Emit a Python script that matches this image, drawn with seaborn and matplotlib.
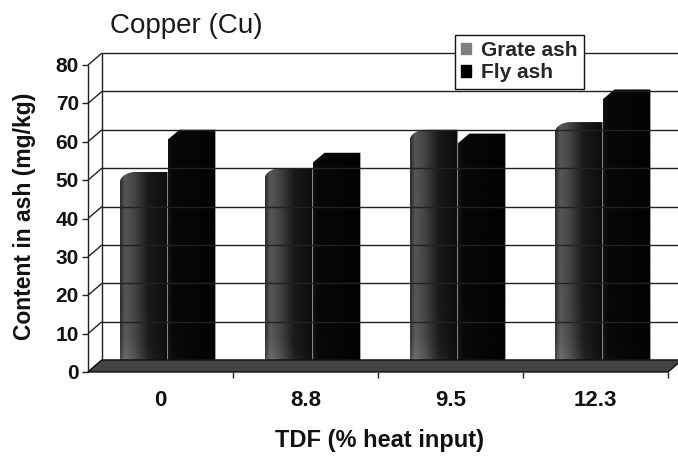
import numpy as np
import pandas as pd
import matplotlib
matplotlib.use("Agg")
import matplotlib.pyplot as plt
from matplotlib.transforms import Affine2D
from matplotlib.patches import Polygon, Patch
import seaborn as sns

# ---- data -------------------------------------------------------------
tdf_labels = ["0", "8.8", "9.5", "12.3"]
grate_ash = [49, 50, 60, 62]
fly_ash = [60, 54, 59, 70.5]
series_names = ["Grate ash", "Fly ash"]
y_ticks = [0, 10, 20, 30, 40, 50, 60, 70, 80]

df = pd.DataFrame({
    "TDF": tdf_labels * 2,
    "ash": [series_names[0]] * len(tdf_labels) + [series_names[1]] * len(tdf_labels),
    "content": grate_ash + fly_ash,
})

sns.set_theme(style="white")
plt.rcParams["font.family"] = ["Liberation Sans", "DejaVu Sans"]

W, H, DPI = 678, 457, 100
fig = plt.figure(figsize=(W / DPI, H / DPI), dpi=DPI)
fig.patch.set_facecolor("white")

# plane in which the columns stand (half way between front edge and back wall)
AX_L, AX_R = 95, 675          # pixel columns of x = -0.5 and x = 3.5
Y0, Y80 = 360, 53             # pixel rows of 0 and 80 on the back wall
DX_FRONT, DY_FRONT = -7, 12   # front plane offset from the column plane
DX_BACK = 7                   # back wall offset from the column plane

ax = fig.add_axes([AX_L / W, 1 - Y0 / H, (AX_R - AX_L) / W, (Y0 - Y80) / H])
ax.set_facecolor("none")

palette = {"Grate ash": "#808080", "Fly ash": "#000000"}
sns.barplot(data=df, x="TDF", y="content", hue="ash", order=tdf_labels,
            hue_order=series_names, palette=palette, width=0.66,
            legend=False, ax=ax, saturation=1)
ax.set_xlim(-0.5, 3.5)
ax.set_ylim(0, 80)
ax.axis("off")

PX_X = (AX_R - AX_L) / 4.0
PX_Y = (Y0 - Y80) / 80.0

def xp(xd):
    return AX_L + (xd + 0.5) * PX_X

def yp(v):
    return Y0 - v * PX_Y

# image-pixel coordinates (origin top-left) -> display
pix = Affine2D().scale(1, -1).translate(0, H)

def line(xs, ys, color="#222222", lw=1.0, z=1):
    fig.add_artist(plt.Line2D(xs, ys, transform=pix, color=color, lw=lw,
                              zorder=z, solid_capstyle="butt"))

# back wall gridlines and left edge
xb_left = xp(-0.5) + DX_BACK
for v in y_ticks:
    line([xb_left, W + 5], [yp(v), yp(v)], lw=1.0)
line([xb_left, xb_left], [yp(0), yp(80)], lw=1.0)

# side wall: front axis, connectors to the back wall, ticks
xf_left = xp(-0.5) + DX_FRONT
line([xf_left, xf_left], [yp(0) + DY_FRONT, yp(80) + DY_FRONT], lw=1.0)
for v in y_ticks:
    yf = yp(v) + DY_FRONT
    line([xf_left, xb_left], [yf, yp(v)], lw=1.0)
    line([xf_left - 6, xf_left], [yf, yf], lw=1.0)
    fig.text((xf_left - 9) / W, 1 - (yf + 7) / H, str(v), ha="right",
             va="baseline", fontsize=15, fontweight="bold", color="#111111")

# floor
xf_right = xp(3.5) + DX_FRONT
floor = Polygon([(xf_left, yp(0) + DY_FRONT), (xb_left, yp(0)),
                 (xf_right + 14, yp(0)), (xf_right, yp(0) + DY_FRONT)],
                closed=True, transform=pix, facecolor="#444444",
                edgecolor="#111111", lw=1.0, zorder=2)
fig.add_artist(floor)
for k in range(4):
    xt = xp(k + 0.5) + DX_FRONT
    line([xt, xt], [yp(0) + DY_FRONT, yp(0) + DY_FRONT + 6], lw=1.0, z=2)

# shaded columns, clipped to each bar's outline with a rounded top shoulder
n_cat = len(tdf_labels)
bars = list(ax.patches)
bottom_d = -(371 - Y0) / PX_Y
nx, ny = 80, 80
tx = np.linspace(0, 1, nx)
ty = np.linspace(0, 1, ny)
for i, bar in enumerate(bars):
    x0 = bar.get_x()
    x1 = x0 + bar.get_width()
    h = bar.get_height()
    bar.set_visible(False)
    grate = i < n_cat
    if grate:
        prof = np.interp(tx, [0, 0.1, 0.3, 0.6, 1], [0.17, 0.34, 0.27, 0.10, 0.05])
        glow = 0.20 * np.exp(-ty / 0.08)
        cw, ch = 16, 11
    else:
        prof = np.interp(tx, [0, 0.1, 1], [0.08, 0.03, 0.01])
        glow = 0.03 * np.exp(-ty / 0.08)
        cw, ch = 12, 10
    img = np.clip(prof[None, :] + glow[:, None] * (1 - tx[None, :]), 0, 1)
    cwd, chd = cw / PX_X, ch / PX_Y
    if grate:
        th = np.linspace(0, np.pi / 2, 12)
        arc = [(x0 + cwd - cwd * np.cos(t), h - chd + chd * np.sin(t)) for t in th]
    else:
        arc = [(x0, h - chd), (x0 + cwd, h)]
    pts = [(x0, bottom_d), (x1, bottom_d), (x1, h)] + arc[::-1]
    clip = Polygon(pts, closed=True, transform=ax.transData)
    im = ax.imshow(img, extent=[x0, x1, bottom_d, h], origin="lower",
                   aspect="auto", cmap="gray", vmin=0, vmax=1,
                   interpolation="bilinear", zorder=3)
    im.set_clip_path(clip)
    im.set_clip_box(None)
ax.set_xlim(-0.5, 3.5)
ax.set_ylim(0, 80)

# category labels along the front edge
for i, lab in enumerate(tdf_labels):
    fig.text((xp(i) + DX_FRONT) / W, 1 - 406 / H, lab, ha="center",
             va="baseline", fontsize=16, fontweight="bold", color="#111111")

# titles
fig.text(110 / W, 1 - 33 / H, "Copper (Cu)", ha="left", va="baseline",
         fontsize=20, color="#1a1a1a")
fig.text(379 / W, 1 - 447 / H, "TDF (% heat input)", ha="center",
         va="baseline", fontsize=17, fontweight="bold", color="#111111")
fig.text(25 / W, 1 - 216 / H, "Content in ash (mg/kg)", ha="center",
         va="center", rotation=90, fontsize=16.5, fontweight="bold",
         color="#111111")

# legend
handles = [Patch(facecolor=palette[n], edgecolor=palette[n]) for n in series_names]
leg = fig.legend(handles, series_names, loc="upper left",
                 bbox_to_anchor=(455 / W, 1 - 35 / H), frameon=True,
                 fancybox=False, framealpha=1, edgecolor="#111111",
                 prop={"size": 15, "weight": "bold"}, handlelength=0.45,
                 handleheight=0.45, handletextpad=0.5, labelspacing=0.15,
                 borderpad=0.3, borderaxespad=0)
leg.get_frame().set_linewidth(1.0)
leg.set_zorder(10)

fig.savefig("out.png", dpi=DPI, facecolor="white")
